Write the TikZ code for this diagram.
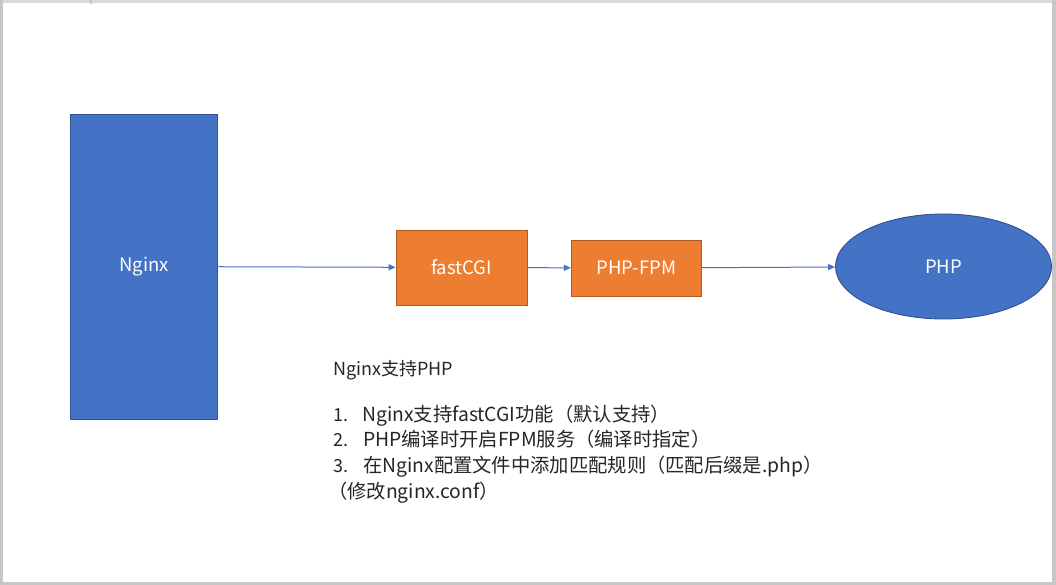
\documentclass[tikz,border=0pt]{standalone}
\usepackage{fontspec}
\setmainfont{Noto Sans CJK SC}
\usetikzlibrary{arrows.meta,shapes.geometric}
\definecolor{bluefill}{HTML}{4472C4}
\definecolor{blueline}{HTML}{2F528F}
\definecolor{orangefill}{HTML}{ED7D31}
\definecolor{orangeline}{HTML}{AE5A21}
\definecolor{bodytext}{HTML}{262626}
\definecolor{frameA}{HTML}{D9D9D9}
\definecolor{frameB}{HTML}{C6C6C6}
\tikzset{
  bluebox/.style={draw=blueline, fill=bluefill, line width=0.9pt, inner sep=0pt, text=white, font=\fontsize{18.5}{21}\selectfont},
  orangebox/.style={draw=orangeline, fill=orangefill, line width=0.9pt, inner sep=0pt, text=white, font=\fontsize{18.5}{21}\selectfont},
  conn/.style={draw=bluefill, line width=1pt, -{Triangle[length=7pt,width=6pt]}},
  body/.style={anchor=base west, inner sep=0pt, text=bodytext, font=\fontsize{18}{21}\selectfont},
  listtext/.style={body, font=\fontsize{19.3}{22}\selectfont}
}
\begin{document}
\begin{tikzpicture}[x=1pt,y=-1pt]
\useasboundingbox (0,0) rectangle (1056,585);
% slide frame
\fill[white] (0,0) rectangle (1056,585);
\fill[frameA] (0,0) rectangle (1056,3);
\fill[frameB] (0,0) rectangle (3,585);
\fill[frameB] (1052,0) rectangle (1056,585);
\fill[frameB] (0,582) rectangle (1056,585);
\fill[frameB] (90,0) rectangle (91.5,4);
% nodes
\node[bluebox, minimum width=147pt, minimum height=305pt] (nginx) at (144.3,266.5) {Nginx};
\node[orangebox, minimum width=131pt, minimum height=75pt] (fcgi) at (461.5,267.5) {fastCGI};
\node[orangebox, minimum width=130pt, minimum height=56pt] (fpm) at (636.3,268) {PHP-FPM};
\node[bluebox, ellipse, minimum width=216pt, minimum height=105pt] (php) at (943.5,266.5) {PHP};
% connectors
\draw[conn] (nginx) -- (fcgi);
\draw[conn] (fcgi) -- (fpm);
\draw[conn] (fpm) -- (php);
% text
\node[body] (title) at (333,375) {Nginx支持PHP};
\node[body] (n1) at (333,421) {1.};
\node[listtext] (t1) at (362,421) {Nginx支持fastCGI功能（默认支持）};
\node[body] (n2) at (333,446) {2.};
\node[listtext] (t2) at (363,446) {PHP编译时开启FPM服务（编译时指定）};
\node[body] (n3) at (333,472) {3.};
\node[listtext] (t3) at (363,472) {在Nginx配置文件中添加匹配规则（匹配后缀是.php）};
\node[listtext] (t4) at (328,498) {（修改nginx.conf）};
\end{tikzpicture}
\end{document}
